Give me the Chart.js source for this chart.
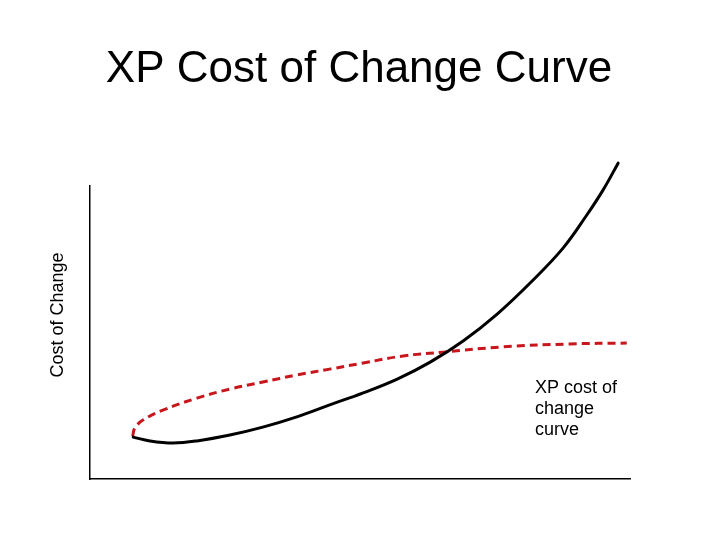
<!DOCTYPE html>
<html lang="en">
<head>
    <meta charset="UTF-8">
    <title>XP Cost of Change Curve</title>
    <script src="https://cdn.jsdelivr.net/npm/chart.js"></script>
</head>
<style>
    html, body {
        margin: 0;
        padding: 0;
        background: #fff;
    }
    .wrap {
        width: 720px;
        height: 540px;
    }
</style>
<body>
    <div class="wrap">
        <canvas id="costChart" width="720" height="540"></canvas>
    </div>

    <script>
        // texts
        const chartTitle = 'XP Cost of Change Curve';
        const yLabel = 'Cost of Change';
        const noteLines = ['XP cost of', 'change', 'curve'];

        // solid black curve (axis units 0..100)
        const solidX = [8.0, 11.1, 15.4, 19.8, 25.9, 32.0, 38.3, 44.4, 50.6, 56.9, 63.0, 69.1, 75.4, 81.5, 87.6, 92.0, 95.0, 97.8];
        const solidY = [14.3, 13.0, 12.3, 13.0, 15.0, 17.7, 21.2, 25.3, 29.4, 34.1, 39.9, 47.1, 56.3, 66.9, 78.8, 90.1, 98.6, 107.8];

        // red dashed "XP" curve
        const dashedX = [7.9, 8.3, 9.8, 13.5, 19.8, 25.9, 32.0, 38.3, 44.4, 50.6, 58.0, 65.4, 76.5, 88.9, 99.4];
        const dashedY = [14.6, 17.4, 20.1, 23.5, 27.6, 30.7, 33.1, 35.5, 37.5, 39.6, 42.0, 43.3, 45.1, 46.1, 46.4];

        function toPoints(xs, ys) {
            return xs.map((x, i) => ({ x: x, y: ys[i] }));
        }

        const textPlugin = {
            id: 'texts',
            afterDraw(chart) {
                const ctx = chart.ctx;
                ctx.save();
                ctx.fillStyle = '#000';

                ctx.font = '44px "Liberation Sans", Arial, sans-serif';
                ctx.textAlign = 'center';
                ctx.textBaseline = 'alphabetic';
                ctx.fillText(chartTitle, 359, 82);

                ctx.save();
                ctx.translate(63, 315);
                ctx.rotate(-Math.PI / 2);
                ctx.font = '18px "Liberation Sans", Arial, sans-serif';
                ctx.fillText(yLabel, 0, 0);
                ctx.restore();

                ctx.font = '18px "Liberation Sans", Arial, sans-serif';
                ctx.textAlign = 'left';
                noteLines.forEach((line, i) => {
                    ctx.fillText(line, 535, 393 + i * 21);
                });
                ctx.restore();
            }
        };

        const ctx = document.getElementById('costChart').getContext('2d');
        new Chart(ctx, {
            type: 'scatter',
            data: {
                datasets: [
                    {
                        label: 'Cost of change',
                        data: toPoints(solidX, solidY),
                        showLine: true,
                        borderColor: '#000000',
                        borderWidth: 3,
                        tension: 0.4,
                        pointRadius: 0,
                        borderCapStyle: 'round',
                        borderJoinStyle: 'round',
                        clip: false
                    },
                    {
                        label: 'XP cost of change curve',
                        data: toPoints(dashedX, dashedY),
                        showLine: true,
                        borderColor: '#c8161d',
                        borderWidth: 3,
                        borderDash: [8, 5],
                        tension: 0.4,
                        pointRadius: 0,
                        clip: false
                    }
                ]
            },
            options: {
                responsive: false,
                animation: false,
                layout: {
                    padding: { top: 186, left: 90, right: 90, bottom: 61 }
                },
                plugins: {
                    legend: { display: false },
                    tooltip: { enabled: false }
                },
                scales: {
                    x: {
                        type: 'linear',
                        min: 0,
                        max: 100,
                        grid: { display: false, drawTicks: false },
                        ticks: { display: false },
                        border: { display: true, color: '#000', width: 1.5 },
                        afterFit: s => { s.height = 0; }
                    },
                    y: {
                        type: 'linear',
                        min: 0,
                        max: 100,
                        grid: { display: false, drawTicks: false },
                        ticks: { display: false },
                        border: { display: true, color: '#000', width: 1.5 },
                        afterFit: s => { s.width = 0; }
                    }
                }
            },
            plugins: [textPlugin]
        });
    </script>
</body>
</html>
